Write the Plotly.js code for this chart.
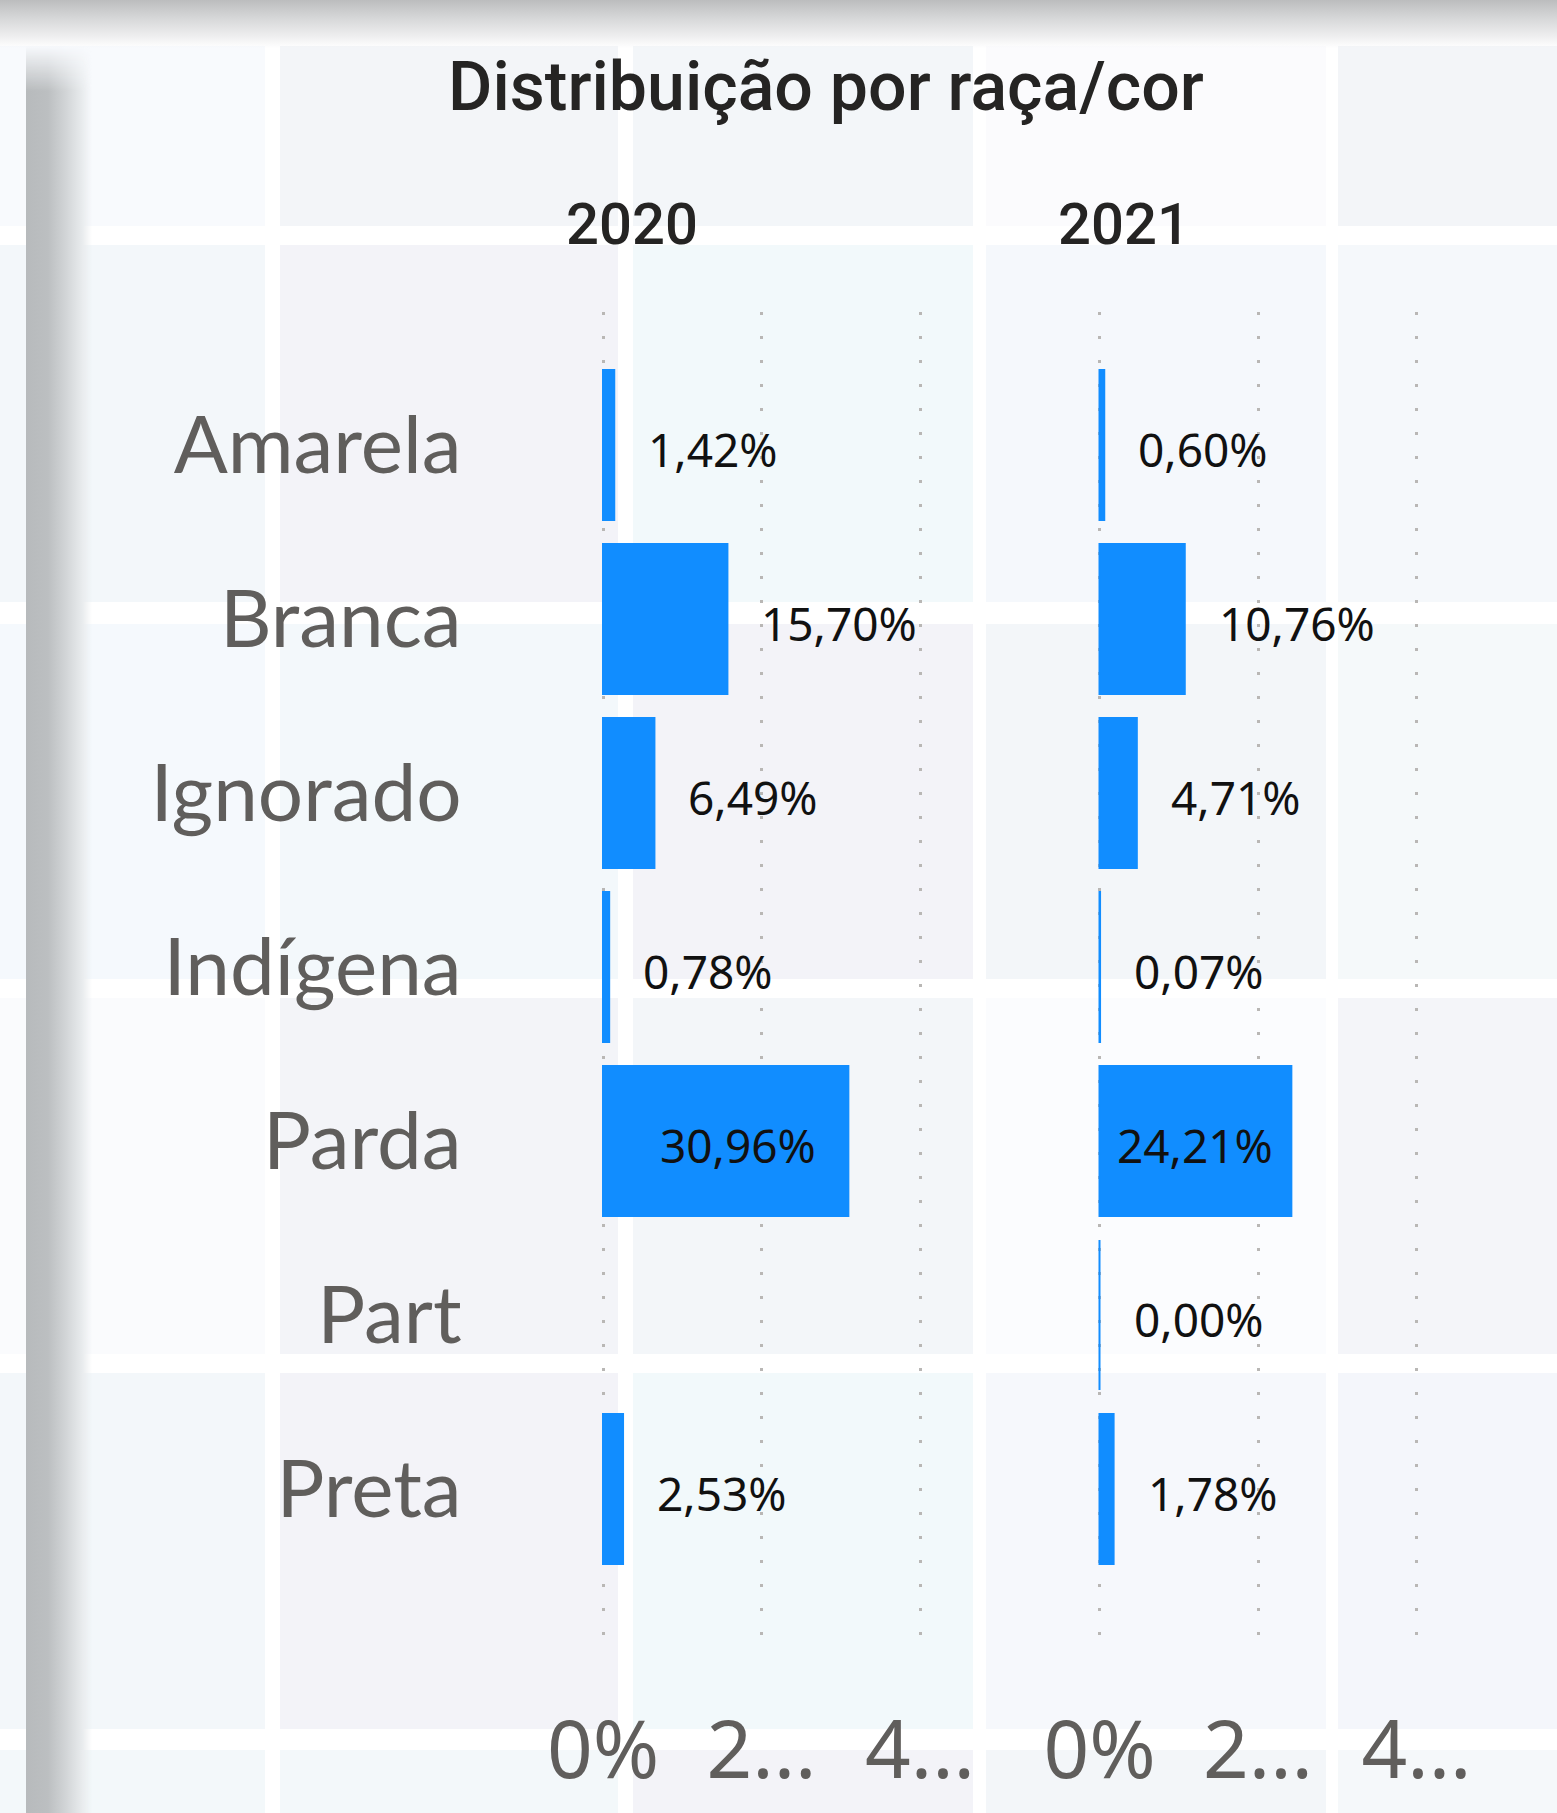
<!DOCTYPE html>
<html>
<head>
<meta charset="utf-8">
<script src="https://cdn.plot.ly/plotly-3.0.1.min.js"></script>
<style>
  html, body { margin: 0; padding: 0; background: #ffffff; }
  #wrap { position: relative; width: 1557px; height: 1813px; overflow: hidden; background: #ffffff; }
  .tile { position: absolute; }
  #topbar { position: absolute; left: 0; top: 0; width: 1557px; height: 48px;
    background: linear-gradient(#bcbdbe 0px, #d6d7d8 18px, #eeeeef 36px, rgba(255,255,255,0) 48px); }
  #leftbar { position: absolute; left: 26px; top: 46px; width: 66px; height: 1767px;
    background: linear-gradient(90deg, #b7babc 0px, #bcbfc1 22px, #d2d5d7 40px, #e8ebed 56px, rgba(240,243,245,0) 66px);
    -webkit-mask-image: linear-gradient(rgba(0,0,0,0) 0px, rgba(0,0,0,1) 45px);
    mask-image: linear-gradient(rgba(0,0,0,0) 0px, rgba(0,0,0,1) 45px); }
  #chart { position: absolute; left: 0; top: 0; width: 1557px; height: 1813px; }
</style>
</head>
<body>
<div id="wrap">
  <div id="tiles"></div>
  <div id="topbar"></div>
  <div id="leftbar"></div>
  <div id="chart"></div>
</div>
<script>
// ---- data ----
const categories = ['Amarela', 'Branca', 'Ignorado', 'Indígena', 'Parda', 'Part', 'Preta'];
const years = ['2020', '2021'];
const values2020 = [0.0142, 0.1570, 0.0649, 0.0078, 0.3096, null, 0.0253];
const values2021 = [0.0060, 0.1076, 0.0471, 0.0007, 0.2421, 0.0000, 0.0178];
const xTickValues = [0, 0.2, 0.4];
const xTickLabels = ['0%', '2...', '4...'];
const chartTitle = 'Distribuição por raça/cor';

// ---- decorative background tiles (page styling) ----
(function () {
  const cols = [[0, 265], [280, 618], [633, 973], [986, 1326], [1338, 1557]];
  const rows = [[46, 226], [245, 602], [624, 979], [998, 1354], [1373, 1729], [1750, 1813]];
  const colors = [
    ['#f8fafd', '#f3f5f8', '#f3f6f9', '#fbfbfd', '#f3f5f8'],
    ['#f3f7fa', '#f3f3f8', '#f2f9fb', '#f5f8fc', '#f5f8fb'],
    ['#f5f9fd', '#f3f8fb', '#f3f3f8', '#f3f6f9', '#f5f9fa'],
    ['#fafbfd', '#f3f4f8', '#f3f6f9', '#fbfcfe', '#f4f5f9'],
    ['#f3f7fa', '#f3f3f8', '#f2f9fb', '#f6f8fc', '#f4f6fb'],
    ['#f3f8fa', '#f3f8fa', '#f3f3f8', '#f3f6f9', '#f5f8fa']
  ];
  const host = document.getElementById('tiles');
  rows.forEach((r, i) => cols.forEach((c, j) => {
    const d = document.createElement('div');
    d.className = 'tile';
    d.style.left = c[0] + 'px'; d.style.top = r[0] + 'px';
    d.style.width = (c[1] - c[0]) + 'px'; d.style.height = (r[1] - r[0]) + 'px';
    d.style.background = colors[i][j];
    host.appendChild(d);
  }));
})();

// ---- chart ----
const W = 1557, H = 1813;
const barColor = '#118DFF';
const axisTextColor = '#605E5C';
const labelColor = '#111111';
const uiFont = '"Segoe UI", "Noto Sans", "Open Sans", sans-serif';
const catFont = '"Segoe UI", Lato, "Noto Sans", sans-serif';
const dinFont = 'Roboto, "DejaVu Sans", sans-serif';

function fmt(v) { return (v * 100).toFixed(2).replace('.', ',') + '%'; }

const pxPerUnit = 792.5;               // 20% = 158.5 px
const xRange = [-0.003, 0.45];
const panelW = (xRange[1] - xRange[0]) * pxPerUnit;
const zeroA = 603, zeroB = 1099.5;     // pixel position of 0% in each panel
const domStartA = zeroA + xRange[0] * pxPerUnit;
const domStartB = zeroB + xRange[0] * pxPerUnit;

const traces = [values2020, values2021].map((vals, k) => ({
  type: 'bar',
  orientation: 'h',
  y: categories,
  x: vals,
  xaxis: k === 0 ? 'x' : 'x2',
  yaxis: 'y',
  marker: { color: barColor, line: { color: barColor, width: 2 } },
  hoverinfo: 'skip',
  showlegend: false
}));

// data labels: outside end, inside end, or centred when the bar is just wide enough
const labelFontSize = 46;
const labelTextPx = 152;
const labelPad = 30;
const annotations = [];
[values2020, values2021].forEach((vals, k) => {
  vals.forEach((v, i) => {
    if (v === null) return;
    const barPx = v * pxPerUnit;
    let xa, xs, xv = v;
    if (barPx > labelTextPx + 2 * labelPad) { xa = 'right'; xs = -labelPad; }
    else if (barPx > labelTextPx + 6) { xa = 'center'; xs = 0; xv = v / 2; }
    else { xa = 'left'; xs = labelPad + 2; }
    annotations.push({
      xref: k === 0 ? 'x' : 'x2', yref: 'y',
      x: xv, y: categories[i],
      text: fmt(v),
      showarrow: false,
      xanchor: xa, yanchor: 'middle',
      xshift: xs, yshift: -4,
      font: { family: uiFont, size: labelFontSize, color: labelColor }
    });
  });
});
// panel headers
[zeroA + 29, zeroB + 24.5].forEach((px, k) => {
  annotations.push({
    xref: 'paper', yref: 'paper',
    x: px / W, y: 1 - 224 / H,
    xanchor: 'center', yanchor: 'middle',
    text: years[k], showarrow: false,
    font: { family: dinFont, size: 58, color: '#252423', weight: 500 }
  });
});

const xaxisBase = {
  range: xRange,
  tickvals: xTickValues,
  ticktext: xTickLabels,
  showgrid: true,
  gridcolor: '#b9b7b5',
  griddash: '3px,21px',
  gridwidth: 3,
  zeroline: false,
  showline: false,
  ticks: '',
  ticklabelstandoff: 57,
  tickfont: { family: uiFont, size: 80, color: axisTextColor },
  fixedrange: true
};

const layout = {
  width: W, height: H,
  margin: { l: 0, r: 0, t: 0, b: 0, pad: 0 },
  paper_bgcolor: 'rgba(0,0,0,0)',
  plot_bgcolor: 'rgba(0,0,0,0)',
  bargap: 0.138,
  title: {
    text: chartTitle,
    x: 826 / W, xanchor: 'center',
    y: 1 - 86 / H, yanchor: 'middle',
    font: { family: dinFont, size: 68, color: '#252423', weight: 500 }
  },
  xaxis: Object.assign({}, xaxisBase, {
    domain: [domStartA / W, (domStartA + panelW) / W], anchor: 'y'
  }),
  xaxis2: Object.assign({}, xaxisBase, {
    domain: [domStartB / W, (domStartB + panelW) / W], anchor: 'y'
  }),
  yaxis: {
    type: 'category',
    categoryorder: 'array',
    categoryarray: categories,
    range: [6.868, -0.764],
    domain: [1 - 1640 / H, 1 - 312 / H],
    anchor: 'x',
    showgrid: false, zeroline: false, showline: false, ticks: '',
    ticklabelstandoff: 138,
    tickfont: { family: catFont, size: 80, color: axisTextColor },
    fixedrange: true
  },
  annotations: annotations
};

Plotly.newPlot('chart', traces, layout, { displayModeBar: false });
</script>
</body>
</html>
